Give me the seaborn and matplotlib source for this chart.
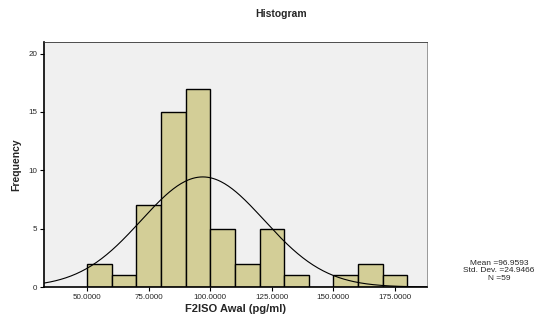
import numpy as np
import matplotlib
matplotlib.use('Agg')
import matplotlib.pyplot as plt
import seaborn as sns

# data
bin_edges = [50, 60, 70, 80, 90, 100, 110, 120, 130, 140, 150, 160, 170, 180]
counts = [2, 1, 7, 15, 17, 5, 2, 5, 1, 0, 1, 2, 1]
x_ticks = [50, 75, 100, 125, 150, 175]
y_ticks = [0, 5, 10, 15, 20]
mean_val = 96.9593
sd_val = 24.9466
n_val = 59

sns.set_style('white')
plt.rcParams['font.family'] = ['Liberation Sans', 'DejaVu Sans']

fig = plt.figure(figsize=(5.46, 3.2), dpi=100)
ax = fig.add_axes([44 / 546, 33 / 320, 383 / 546, 245 / 320])
ax.set_facecolor('#f0f0f0')

centers = [(a + b) / 2 for a, b in zip(bin_edges[:-1], bin_edges[1:])]
sns.histplot(x=centers, weights=counts, bins=bin_edges, ax=ax,
             color='#d3ce97', edgecolor='black', linewidth=1.0, alpha=1)

# normal curve scaled to counts
xs = np.linspace(32.5, 188, 300)
binw = bin_edges[1] - bin_edges[0]
ys = n_val * binw / (sd_val * np.sqrt(2 * np.pi)) * np.exp(-0.5 * ((xs - mean_val) / sd_val) ** 2)
sns.lineplot(x=xs, y=ys, ax=ax, color='black', linewidth=0.8)

ax.set_xlim(32.5, 188)
ax.set_ylim(0, 21)
ax.set_xticks(x_ticks)
ax.set_xticklabels([f'{t:.4f}' for t in x_ticks], fontsize=5.8)
ax.set_yticks(y_ticks)
ax.set_yticklabels([str(t) for t in y_ticks], fontsize=5.8)
ax.tick_params(axis='both', direction='out', length=3, width=0.8, color='black',
               pad=2, bottom=True, left=True)

for s in ['left', 'bottom']:
    ax.spines[s].set_color('black')
    ax.spines[s].set_linewidth(1.2)
ax.spines['top'].set_color('#333333')
ax.spines['top'].set_linewidth(0.6)
ax.spines['right'].set_color('#888888')
ax.spines['right'].set_linewidth(0.6)

ax.set_xlabel('F2ISO Awal (pg/ml)', fontsize=8, fontweight='bold', labelpad=2)
ax.set_ylabel('Frequency', fontsize=7.5, fontweight='bold', labelpad=5)

fig.text(281 / 546, 1 - 14 / 320, 'Histogram', ha='center', va='center',
         fontsize=7.5, fontweight='bold')
fig.text(499 / 546, 1 - 271 / 320,
         f'Mean ={mean_val:.4f}\nStd. Dev. ={sd_val:.4f}\nN ={n_val}',
         ha='center', va='center', fontsize=6, linespacing=1.05)

fig.savefig('out.png', dpi=100)
